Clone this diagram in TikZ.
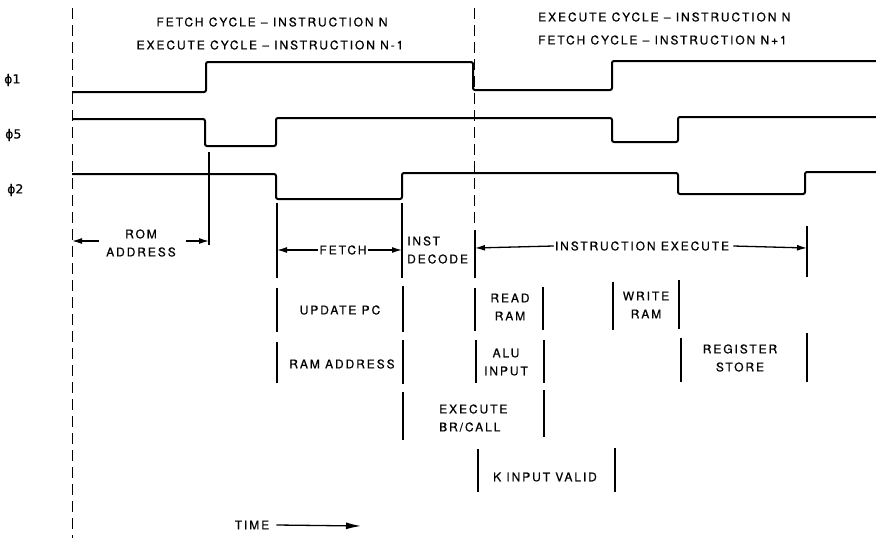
\documentclass[tikz,border=0pt]{standalone}
\usepackage{fontspec}
\setmainfont{TeX Gyre Heros}
\newfontfamily\labfont[LetterSpace=16, FakeBold=0.6]{TeX Gyre Heros}
\newfontfamily\phifont[FakeBold=0.6]{DejaVu Sans}
\usetikzlibrary{arrows.meta, positioning}
\tikzset{
    timing/.style={font=\labfont\fontsize{12}{18}\selectfont},
    timing wave/.style={line width=2pt, rounded corners=2pt},
    timing tick/.style={line width=1.3pt},
    timing mark/.style={line width=1pt, dash pattern=on 11pt off 6pt},
    timing arrow/.style={-{Latex[length=10pt,width=6pt]}, line width=1.3pt},
    timing label/.style={align=center, inner sep=1pt},
}

\begin{document}
\begin{tikzpicture}[
    timing,
    x=1pt, y=-1pt,
    wave/.style={timing wave},
    tick/.style={timing tick},
    span/.style={timing arrow},
    lbl/.style={timing label},
    phase/.style={anchor=west, inner sep=1pt, font=\phifont\fontsize{12.5}{14}\selectfont}
  ]
    \useasboundingbox (0,0) rectangle (876,538);

    % cycle boundaries
    \draw[timing mark] (72,8) -- (72,538);
    \draw[timing mark] (474,8) -- (474,228);

    % cycle titles
    \node[lbl] (fetchn) at (272,22) {FETCH CYCLE – INSTRUCTION N};
    \node[lbl] (execprev) at (270,45) {EXECUTE CYCLE – INSTRUCTION N-1};
    \node[lbl, anchor=west] (execn) at (537,17) {EXECUTE CYCLE – INSTRUCTION N};
    \node[lbl, anchor=west] (fetchnext) at (537,40) {FETCH CYCLE – INSTRUCTION N+1};

    % clock phases
    \node[phase] (phi1) at (3,80) {ϕ1};
    \node[phase] (phi5) at (4,135) {ϕ5};
    \node[phase] (phi2) at (6,190) {ϕ2};
    \draw[wave] (72,92) -- (206,92) -- (206,62) -- (473,62) -- (473,90)
        -- (612,90) -- (612,61) -- (876,61);
    \draw[wave] (72,119) -- (205,119) -- (205,146) -- (276,146) -- (276,118)
        -- (612,118) -- (612,142) -- (678,142) -- (678,117) -- (876,117);
    \draw[wave] (72,174) -- (276,174) -- (276,199) -- (402,199) -- (402,173)
        -- (678,173) -- (678,194) -- (805,194) -- (805,172) -- (876,172);

    % phase ticks
    \draw[tick] (209,152) -- (209,245);
    \draw[tick] (277,203) -- (277,278);
    \draw[tick] (402,203) -- (402,278);
    \draw[tick] (475,230) -- (475,278);
    \draw[tick] (807,226) -- (807,277);

    % rom address
    \coordinate (rom-l) at (72,241);
    \coordinate (rom-r) at (209,241);
    \node[lbl] (rom) at (141,243) {ROM\\ADDRESS};
    \draw[span] (99,241) -- (rom-l);
    \draw[span] (186,241) -- (rom-r);

    % fetch
    \coordinate (fetch-l) at (277,250);
    \coordinate (fetch-r) at (402,250);
    \node[lbl] (fetch) at (343,250) {FETCH};
    \draw[span] (fetch.west) -- (fetch-l);
    \draw[span] (fetch.east) -- (fetch-r);

    \node[lbl, align=left, anchor=west] (decode) at (406,250) {INST\\DECODE};

    % instruction execute
    \coordinate (exec-l) at (475,248);
    \coordinate (exec-r) at (807,248);
    \node[lbl] (instexec) at (642,246) {INSTRUCTION EXECUTE};
    \draw[span] (instexec.west) -- (exec-l);
    \draw[span] ([xshift=3pt]instexec.east) -- (exec-r);

    % operations
    \draw[tick] (277,288) -- (277,332);
    \draw[tick] (403,286) -- (403,332);
    \node[lbl] (updpc) at (340,310) {UPDATE PC};

    \draw[tick] (277,342) -- (277,383);
    \draw[tick] (403,340) -- (403,384);
    \node[lbl] (ramaddr) at (342,364) {RAM ADDRESS};

    \draw[tick] (475,288) -- (475,331);
    \draw[tick] (543,287) -- (543,330);
    \node[lbl] (readram) at (510,307) {READ\\RAM};

    \draw[tick] (613,282) -- (613,330);
    \draw[tick] (679,280) -- (679,329);
    \node[lbl] (writeram) at (646,305) {WRITE\\RAM};

    \draw[tick] (476,340) -- (476,383);
    \draw[tick] (544,340) -- (544,383);
    \node[lbl] (aluin) at (506,362) {ALU\\INPUT};

    \draw[tick] (681,338) -- (681,382);
    \draw[tick] (807,333) -- (807,382);
    \node[lbl] (regstore) at (740,358) {REGISTER\\STORE};

    \draw[tick] (403,392) -- (403,440);
    \draw[tick] (544,390) -- (544,437);
    \node[lbl, align=left, anchor=west] (brcall) at (438,418) {EXECUTE\\BR/CALL};

    \draw[tick] (478,449) -- (478,492);
    \draw[tick] (615,448) -- (615,492);
    \node[lbl] (kinput) at (545,477) {K INPUT VALID};

    % time axis
    \coordinate (time-end) at (361,526);
    \node[lbl] (time) at (252,525) {TIME};
    \draw[span, -{Latex[length=15pt,width=7pt]}] ([xshift=6pt]time.east) -- (time-end);
  \end{tikzpicture}
\end{document}
